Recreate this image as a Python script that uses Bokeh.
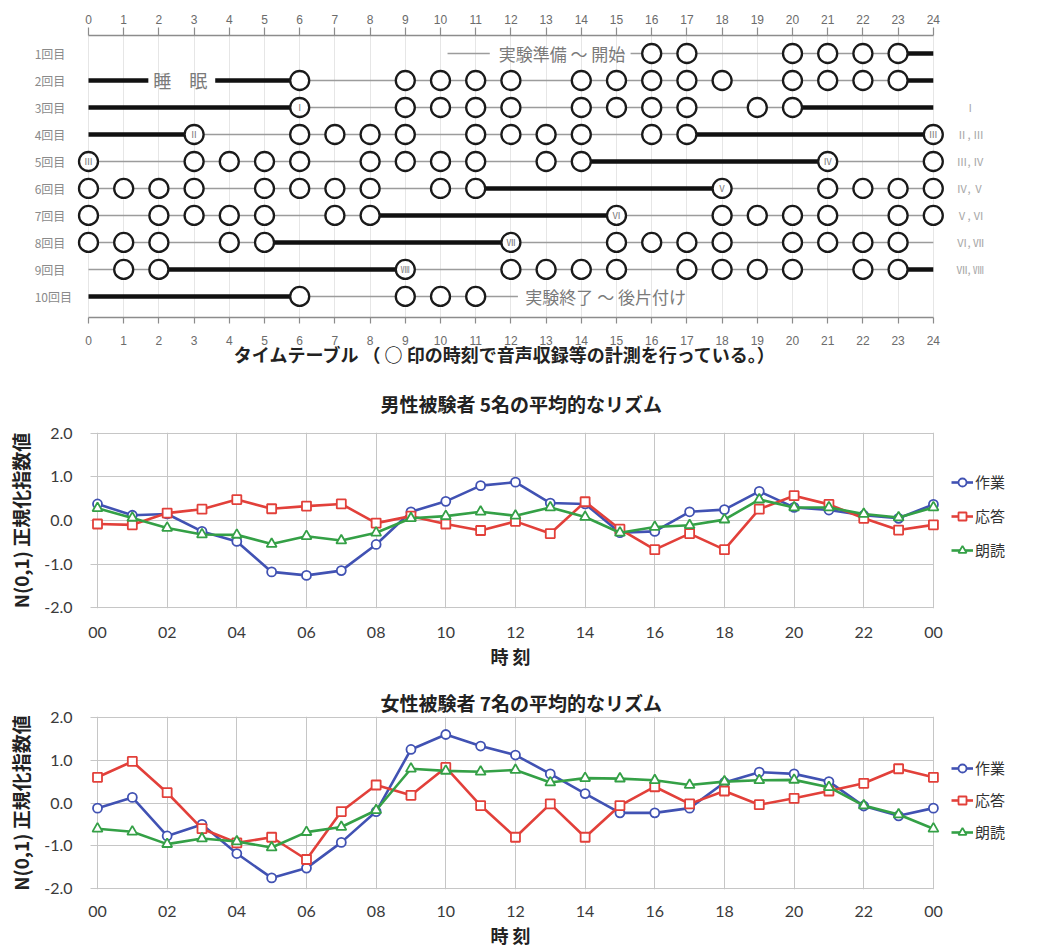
from bokeh.plotting import figure
from bokeh.models import (Range1d, LinearAxis, FixedTicker, Legend, LegendItem,
                          PrintfTickFormatter, Title)
from bokeh.core.properties import value
from bokeh.embed import file_html
from bokeh.resources import INLINE

# ---------------- data : timetable ----------------
HOURS_TT = list(range(25))
SESSIONS = ["1回目", "2回目", "3回目", "4回目", "5回目",
            "6回目", "7回目", "8回目", "9回目", "10回目"]
meas_1 = [16, 17, 20, 21, 22, 23]
meas_2 = [6, 9, 10, 11, 12, 14, 15, 16, 17, 18, 20, 21, 22, 23]
meas_3 = [6, 9, 10, 11, 12, 14, 15, 16, 17, 19, 20]
meas_4 = [3, 6, 7, 8, 9, 11, 12, 13, 14, 16, 17, 24]
meas_5 = [0, 3, 4, 5, 6, 8, 9, 10, 11, 13, 14, 21, 24]
meas_6 = [0, 1, 2, 3, 5, 6, 7, 8, 10, 11, 18, 21, 22, 23, 24]
meas_7 = [0, 2, 3, 4, 5, 7, 8, 15, 18, 19, 20, 21, 23, 24]
meas_8 = [0, 1, 2, 4, 5, 12, 15, 16, 17, 18, 20, 21, 22, 23]
meas_9 = [1, 2, 9, 12, 13, 14, 15, 17, 18, 19, 20, 22, 23]
meas_10 = [6, 9, 10, 11]
MEAS_LIST = [meas_1, meas_2, meas_3, meas_4, meas_5,
             meas_6, meas_7, meas_8, meas_9, meas_10]

# thin (awake) segments
thin_row = [1, 1, 2, 3, 4, 5, 5, 6, 6, 7, 7, 8, 8, 9, 9, 10]
thin_start = [10.2, 15.4, 6, 6, 3, 0, 21, 0, 18, 0, 15, 0, 12, 0, 9, 6]
thin_end = [11.4, 23, 23, 20, 17, 14, 24, 11, 24, 8, 24, 5, 24, 2, 23, 12.2]
# thick (sleep) segments
sleep_row = [1, 2, 2, 2, 3, 3, 4, 4, 5, 6, 7, 8, 9, 9, 10]
sleep_start = [23, 0, 3.6, 23, 0, 20, 0, 17, 14, 11, 8, 5, 2, 23, 0]
sleep_end = [24, 1.7, 6, 24, 6, 24, 3, 24, 21, 18, 15, 12, 9, 24, 6]

# roman numerals written inside circles
num_row = [3, 4, 4, 5, 5, 6, 7, 8, 9]
num_hour = [6, 3, 24, 0, 21, 18, 15, 12, 9]
num_text = ["Ⅰ", "Ⅱ", "Ⅲ", "Ⅲ", "Ⅳ", "Ⅴ", "Ⅵ", "Ⅶ", "Ⅷ"]
# labels at the right of rows
right_row = [3, 4, 5, 6, 7, 8, 9]
right_text = ["Ⅰ", "Ⅱ, Ⅲ", "Ⅲ, Ⅳ", "Ⅳ, Ⅴ", "Ⅴ, Ⅵ", "Ⅵ, Ⅶ", "Ⅶ, Ⅷ"]

NOTE_START = "実験準備 〜 開始"
NOTE_END = "実験終了 〜 後片付け"
NOTE_SLEEP = "睡　眠"
CAPTION = "タイムテーブル （ ○ 印の時刻で音声収録等の計測を行っている。）"

# ---------------- data : rhythm charts ----------------
HOURS = list(range(25))
HOUR_TICKS = [0, 2, 4, 6, 8, 10, 12, 14, 16, 18, 20, 22, 24]
HOUR_LABELS = ["00", "02", "04", "06", "08", "10", "12",
               "14", "16", "18", "20", "22", "00"]
Y_TICKS = [-2, -1, 0, 1, 2]
SERIES = ["作業", "応答", "朗読"]
X_TITLE = "時 刻"
Y_TITLE = "N(0,1) 正規化指数値"

male_work = [0.38, 0.12, 0.15, -0.25, -0.48, -1.18, -1.26, -1.15, -0.55, 0.20,
             0.44, 0.80, 0.88, 0.40, 0.38, -0.28, -0.25, 0.20, 0.25, 0.67,
             0.30, 0.24, 0.12, 0.05, 0.37]
male_resp = [-0.08, -0.10, 0.17, 0.26, 0.48, 0.27, 0.33, 0.38, -0.06, 0.10,
             -0.08, -0.23, -0.02, -0.30, 0.43, -0.20, -0.67, -0.30, -0.67, 0.26,
             0.57, 0.37, 0.05, -0.22, -0.10]
male_read = [0.28, 0.06, -0.17, -0.32, -0.33, -0.54, -0.36, -0.46, -0.28, 0.05,
             0.10, 0.20, 0.11, 0.30, 0.08, -0.28, -0.15, -0.11, 0.02, 0.48,
             0.30, 0.30, 0.15, 0.07, 0.30]

female_work = [-0.12, 0.13, -0.77, -0.50, -1.18, -1.75, -1.52, -0.92, -0.20, 1.25,
               1.60, 1.33, 1.12, 0.68, 0.22, -0.23, -0.23, -0.12, 0.48, 0.72,
               0.68, 0.50, -0.07, -0.30, -0.12]
female_resp = [0.60, 0.97, 0.24, -0.60, -0.93, -0.80, -1.32, -0.20, 0.42, 0.18,
               0.83, -0.06, -0.80, -0.02, -0.80, -0.06, 0.38, -0.02, 0.28, -0.04,
               0.11, 0.28, 0.46, 0.80, 0.60]
female_read = [-0.60, -0.67, -0.96, -0.83, -0.90, -1.04, -0.68, -0.56, -0.17, 0.80,
               0.75, 0.73, 0.77, 0.48, 0.58, 0.57, 0.53, 0.42, 0.50, 0.53,
               0.54, 0.37, -0.06, -0.27, -0.60]

# ---------------- styles ----------------
JP = "Noto Sans CJK JP"
NUM = "Lato"
W = 1046
COLORS = ["#4152B3", "#E2403A", "#34A046"]
MARKERS = ["circle", "square", "triangle"]

# ================= timetable =================
PX_H = 35.2
TT_FRAME_R = 1010
pA = figure(width=W, height=370,
            x_range=Range1d(-88 / PX_H, (TT_FRAME_R - 88) / PX_H),
            y_range=Range1d(10.78, 0.333),
            x_axis_location=None, y_axis_location=None,
            toolbar_location=None, output_backend="svg",
            min_border_left=0, min_border_right=W - TT_FRAME_R,
            min_border_top=35, min_border_bottom=53)
pA.outline_line_color = None
pA.ygrid.visible = False
pA.xgrid.ticker = FixedTicker(ticks=HOURS_TT)
pA.xgrid.grid_line_color = "#e6e6e6"
pA.xgrid.grid_line_width = 1

for loc, tick_out in (("above", 8), ("below", 6)):
    ax = LinearAxis(ticker=FixedTicker(ticks=HOURS_TT), bounds=(0, 24))
    ax.axis_line_color = "#8c8c8c"
    ax.axis_line_width = 1.5
    ax.major_tick_line_color = "#8c8c8c"
    ax.major_tick_line_width = 1.2
    ax.major_tick_out = tick_out
    ax.major_tick_in = 0
    ax.minor_tick_line_color = None
    ax.minor_tick_out = 0
    ax.major_label_text_font = "Liberation Sans"
    ax.major_label_text_font_size = "12px"
    ax.major_label_text_color = "#6b6b6b"
    ax.major_label_standoff = 4 if loc == "above" else 12
    if loc == "below":
        ax.axis_label = CAPTION
        ax.axis_label_text_font = JP
        ax.axis_label_text_font_style = "bold"
        ax.axis_label_text_font_size = "18px"
        ax.axis_label_text_color = "#222222"
        ax.axis_label_standoff = -7
    pA.add_layout(ax, loc)

pA.segment(x0=thin_start, y0=thin_row, x1=thin_end, y1=thin_row,
           line_color="#9c9c9c", line_width=1.6)
pA.segment(x0=sleep_start, y0=sleep_row, x1=sleep_end, y1=sleep_row,
           line_color="#111111", line_width=4.5)

circ_x = [h for m in MEAS_LIST for h in m]
circ_y = [i + 1 for i, m in enumerate(MEAS_LIST) for _ in m]
pA.scatter(circ_x, circ_y, marker="circle", size=19, fill_color="white",
           line_color="#1a1a1a", line_width=2.3)

pA.text(x=num_hour, y=num_row, text=num_text, text_font=value(JP),
        text_font_size="9px", text_align="center", text_baseline="middle",
        text_color="#777777")
pA.text(x=[-1.53] * len(SESSIONS), y=list(range(1, 11)), text=SESSIONS,
        text_font=value(JP), text_font_size="12px", text_align="left",
        text_baseline="middle", text_color="#8a8a8a")
pA.text(x=[25.05] * len(right_row), y=right_row, text=right_text,
        text_font=value(JP), text_font_size="11px", text_align="center",
        text_baseline="middle", text_color="#a8a8a8")
pA.text(x=[13.45], y=[1], text=[NOTE_START], text_font=value(JP),
        text_font_size="17px", text_align="center", text_baseline="middle",
        text_color="#7a7a7a")
pA.text(x=[12.41], y=[10], text=[NOTE_END], text_font=value(JP),
        text_font_size="17px", text_align="left", text_baseline="middle",
        text_color="#7a7a7a")
pA.text(x=[2.61], y=[2], text=[NOTE_SLEEP], text_font=value(JP),
        text_font_size="18px", text_align="center", text_baseline="middle",
        text_color="#7a7a7a")


# ================= rhythm charts =================
FRAME_L = 88          # left edge of chart frame (px)
X0_PX = 97            # where hour 0 sits
PX_HR = 34.83         # px per hour
LEG_X = 955           # legend glyph start (px)
TITLE_X = 380         # left edge of chart titles (px)
XTITLE_X = 490        # left edge of x-axis title (px)


def rhythm_chart(title, series_vals, height, top, bottom, title_standoff,
                 xl_standoff, xt_standoff, leg_bottom, leg_spacing):
    p = figure(width=W, height=height,
               x_range=Range1d(-(X0_PX - FRAME_L) / PX_HR, (W - X0_PX) / PX_HR),
               y_range=Range1d(-2.02, 2.02),
               toolbar_location=None, output_backend="svg",
               min_border_left=FRAME_L, min_border_right=0,
               min_border_top=top, min_border_bottom=bottom)
    p.outline_line_color = None
    p.title.text = title
    p.title.align = "left"
    p.title.offset = TITLE_X - FRAME_L
    p.title.text_font = JP
    p.title.text_font_style = "bold"
    p.title.text_font_size = "19px"
    p.title.text_color = "#222222"
    p.title.standoff = title_standoff

    xax = LinearAxis(ticker=FixedTicker(ticks=HOUR_TICKS), bounds=(0, 24))
    p.xaxis.visible = False
    p.add_layout(xax, "below")
    xax.major_label_overrides = {t: l for t, l in zip(HOUR_TICKS, HOUR_LABELS)}
    p.yaxis.ticker = FixedTicker(ticks=Y_TICKS)
    p.yaxis.formatter = PrintfTickFormatter(format="%.1f")
    for ax in (xax, p.yaxis[0]):
        ax.axis_line_color = None
        ax.major_tick_line_color = None
        ax.minor_tick_line_color = None
        ax.major_tick_out = 0
        ax.major_tick_in = 0
        ax.minor_tick_out = 0
        ax.minor_tick_in = 0
        ax.major_label_text_font = NUM
        ax.major_label_text_font_size = "16px"
        ax.major_label_text_color = "#3a3a3a"
        ax.axis_label_text_font = JP
        ax.axis_label_text_font_style = "bold"
        ax.axis_label_text_color = "#222222"
    xax.major_label_standoff = xl_standoff
    p.add_layout(Title(text=X_TITLE, align="left", offset=XTITLE_X - FRAME_L,
                       text_font=JP, text_font_style="bold", text_font_size="18px",
                       text_color="#222222", standoff=xt_standoff), "below")
    p.yaxis.axis_label = Y_TITLE
    p.yaxis.axis_label_text_font_size = "19px"
    p.yaxis.major_label_standoff = 16
    p.yaxis.axis_label_standoff = 7

    p.xgrid.ticker = FixedTicker(ticks=HOUR_TICKS)
    p.ygrid.ticker = FixedTicker(ticks=Y_TICKS)
    for g in (p.xgrid[0], p.ygrid[0]):
        g.grid_line_color = "#c6c6c6"
        g.grid_line_width = 1
    if "cross_bounds" in p.ygrid[0].properties():
        p.ygrid[0].cross_bounds = (-0.2, 24)

    items = []
    for name, vals, col, mk in zip(SERIES, series_vals, COLORS, MARKERS):
        ln = p.line(HOURS, vals, line_color=col, line_width=2.6)
        sc = p.scatter(HOURS, vals, marker=mk, size=9 if mk != "triangle" else 10,
                       fill_color="white", line_color=col, line_width=1.8)
        items.append(LegendItem(label=name, renderers=[ln, sc]))
    leg = Legend(items=items, location=(LEG_X - FRAME_L - 4, leg_bottom),
                 orientation="vertical",
                 label_text_font=JP, label_text_font_size="15px",
                 label_text_color="#333333", glyph_width=22, glyph_height=20,
                 label_height=20, label_standoff=2, spacing=leg_spacing, padding=4,
                 margin=0, border_line_color=None, background_fill_alpha=0)
    p.add_layout(leg)
    return p


pB = rhythm_chart("男性被験者 5名の平均的なリズム",
                  [male_work, male_resp, male_read],
                  307, 62, 69, 31, 18, 0, 48, 13)
pC = rhythm_chart("女性被験者 7名の平均的なリズム",
                  [female_work, female_resp, female_read],
                  272, 39, 60, 2, 16, 0, 47, 11)

open("out.html", "w").write(file_html([pA, pB, pC], INLINE))
